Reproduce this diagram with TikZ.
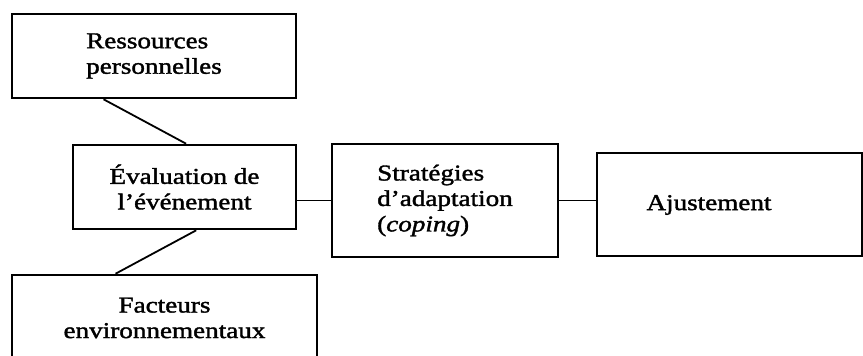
\documentclass[tikz,border=0pt]{standalone}
\usepackage{fontspec}
\setmainfont{Liberation Serif}[FakeStretch=1.2,FakeBold=1.6]
\usetikzlibrary{calc}
\begin{document}
\begin{tikzpicture}[x=1pt,y=-1pt,
  box/.style={draw,line width=2.6pt,inner sep=0pt,minimum width=#1},
  lbl/.style={inner sep=0pt,font=\fontsize{22.6}{25.5}\selectfont},
  link/.style={line width=1.8pt}]
\clip (0,0) rectangle (863,356);
\node[box=284,minimum height=84,lbl,align=left] (res) at (154,56)
  {Ressources\\personnelles};
\node[box=223,minimum height=84,lbl,align=center] (eval) at (184.5,187)
  {Évaluation de\\l’événement};
\node[box=305,minimum height=105] (fac) at (164.5,327.5) {};
\node[lbl,align=center] (factxt) at (164.5,318) {Facteurs\\environnementaux};
\node[box=226,minimum height=113,lbl,align=left] (strat) at (445,200.5)
  {Stratégies\\d’adaptation\\(\textit{coping})};
\node[box=265,minimum height=103] (ajust) at (729.5,204.5) {};
\node[lbl] (ajtxt) at (709,205) {Ajustement};
\draw[link] ($(res.south west)!0.324!(res.south east)$) -- ($(eval.north west)!0.507!(eval.north east)$);
\draw[link] ($(eval.south west)!0.552!(eval.south east)$) -- ($(fac.north west)!0.341!(fac.north east)$);
\draw[link] (strat.west -| eval.east) -- (strat.west);
\draw[link] (strat.east) -- (strat.east -| ajust.west);
\end{tikzpicture}
\end{document}
